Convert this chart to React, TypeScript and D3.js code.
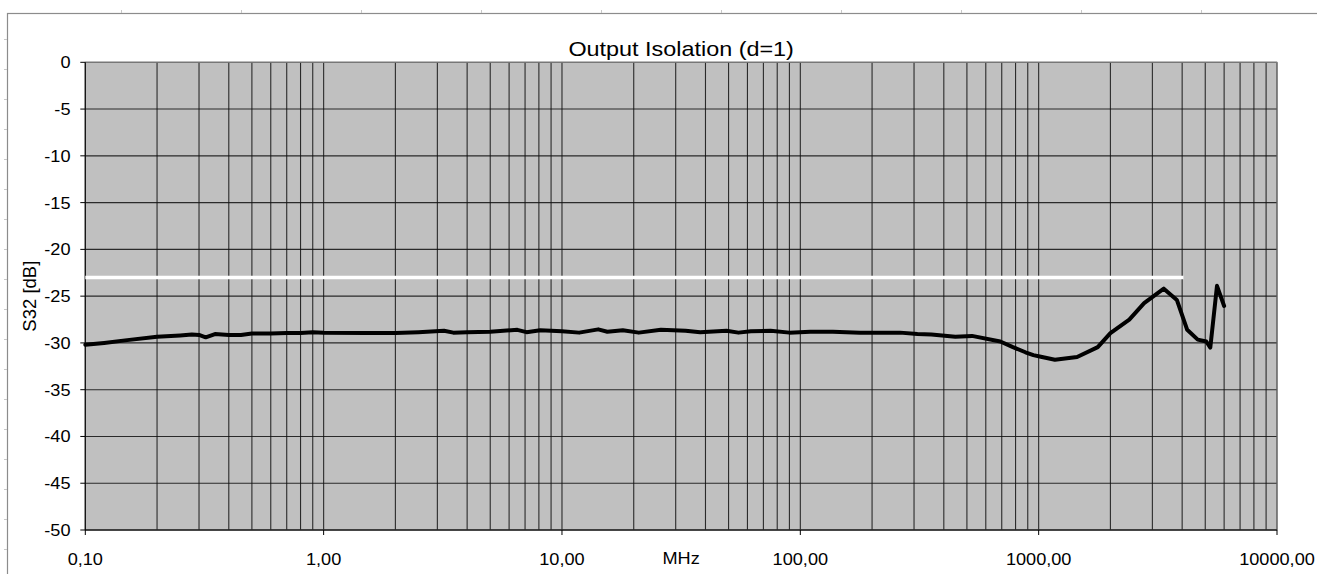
import React, { useEffect, useRef } from "react";
import * as d3 from "d3";

const freqMHz = [
  0.1, 0.12, 0.15, 0.2, 0.25, 0.28, 0.3, 0.32, 0.35, 0.4, 0.45, 0.5, 0.6, 0.7, 0.8, 0.9,
  1.0, 1.5, 2.0, 2.5, 3.2, 3.5, 4, 5, 6.5, 7.1, 8.1, 10, 11.8, 14.2, 15.5, 18, 21, 26, 33,
  38, 49, 55, 62, 75, 90, 110, 137, 178, 262, 310, 355, 447, 525, 690, 780, 880, 950, 1010,
  1170, 1450, 1770, 2000, 2400, 2770, 3350, 3800, 4200, 4650, 5050, 5250, 5600, 6000,
];
const s32dB = [
  -30.2, -30.0, -29.7, -29.35, -29.2, -29.1, -29.15, -29.4, -29.05, -29.15, -29.15, -29.0,
  -29.0, -28.95, -28.95, -28.85, -28.9, -28.95, -28.95, -28.85, -28.7, -28.9, -28.85, -28.8,
  -28.6, -28.85, -28.65, -28.75, -28.9, -28.55, -28.8, -28.65, -28.9, -28.6, -28.7, -28.85,
  -28.7, -28.9, -28.75, -28.7, -28.9, -28.8, -28.8, -28.9, -28.9, -29.05, -29.1, -29.35,
  -29.25, -29.85, -30.45, -31.0, -31.3, -31.45, -31.8, -31.5, -30.45, -28.95, -27.5, -25.75,
  -24.2, -25.4, -28.6, -29.65, -29.85, -30.5, -23.9, -26.05,
];
const limitFreq = [0.1, 4050];
const limitDB = [-23, -23];

const xTickValues = [0.1, 1, 10, 100, 1000, 10000];
const xTickLabels = ["0,10", "1,00", "10,00", "100,00", "1000,00", "10000,00"];
const yTickValues = [0, -5, -10, -15, -20, -25, -30, -35, -40, -45, -50];

const titleText = "Output Isolation (d=1)";
const xAxisTitle = "MHz";
const yAxisTitle = "S32 [dB]";

const W = 1317;
const H = 574;
const plot = { left: 85.3, right: 1277, top: 62.3, bottom: 530 };
const FONT = "'Liberation Sans', Arial, sans-serif";
const SX = 1.1; // horizontal stretch of the reference's text

export default function App() {
  const ref = useRef<SVGSVGElement | null>(null);

  useEffect(() => {
    const svg = d3.select(ref.current);
    svg.selectAll("*").remove();

    const x = d3.scaleLog().domain([0.1, 10000]).range([plot.left, plot.right]);
    const y = d3.scaleLinear().domain([-50, 0]).range([plot.bottom, plot.top]);

    // outer chart border (Excel chart frame)
    svg.append("rect")
      .attr("x", 7.5).attr("y", 13.5)
      .attr("width", W + 20).attr("height", H + 20)
      .attr("fill", "#fff").attr("stroke", "#8c8c8c").attr("stroke-width", 1.2);
    for (let xm = 121; xm < W; xm += 120) {
      svg.append("line").attr("x1", xm + 0.5).attr("x2", xm + 0.5).attr("y1", 10).attr("y2", 13)
        .attr("stroke", "#c8c8c8").attr("stroke-width", 1);
    }
    for (let ym = 39; ym < H; ym += 30) {
      svg.append("line").attr("x1", 4).attr("x2", 7).attr("y1", ym + 0.5).attr("y2", ym + 0.5)
        .attr("stroke", "#c8c8c8").attr("stroke-width", 1);
    }

    // plot area
    svg.append("rect")
      .attr("x", plot.left).attr("y", plot.top)
      .attr("width", plot.right - plot.left).attr("height", plot.bottom - plot.top)
      .attr("fill", "#c0c0c0");

    // vertical gridlines (log major + minor)
    const vGrid: number[] = [];
    for (let dec = 0.1; dec < 10000; dec *= 10) {
      for (let m = 1; m <= 9; m++) vGrid.push(+(dec * m).toPrecision(6));
    }
    vGrid.push(10000);
    svg.append("g").selectAll("line").data(vGrid).join("line")
      .attr("x1", (d) => x(d)).attr("x2", (d) => x(d))
      .attr("y1", plot.top).attr("y2", plot.bottom)
      .attr("stroke", "#111").attr("stroke-width", 1.1).attr("opacity", 0.85);

    // horizontal gridlines
    svg.append("g").selectAll("line").data(yTickValues).join("line")
      .attr("x1", plot.left).attr("x2", plot.right)
      .attr("y1", (d) => y(d)).attr("y2", (d) => y(d))
      .attr("stroke", "#111").attr("stroke-width", 1.1).attr("opacity", 0.85);

    // plot border
    svg.append("rect")
      .attr("x", plot.left).attr("y", plot.top)
      .attr("width", plot.right - plot.left).attr("height", plot.bottom - plot.top)
      .attr("fill", "none").attr("stroke", "#808080").attr("stroke-width", 1);

    // axes lines
    svg.append("line").attr("x1", plot.left).attr("x2", plot.left)
      .attr("y1", plot.top).attr("y2", plot.bottom).attr("stroke", "#000");
    svg.append("line").attr("x1", plot.left).attr("x2", plot.right)
      .attr("y1", plot.bottom).attr("y2", plot.bottom).attr("stroke", "#000");

    // y ticks + labels
    const yg = svg.append("g");
    yg.selectAll("line").data(yTickValues).join("line")
      .attr("x1", plot.left - 5).attr("x2", plot.left)
      .attr("y1", (d) => y(d)).attr("y2", (d) => y(d)).attr("stroke", "#000");
    yg.selectAll("text").data(yTickValues).join("text")
      .attr("transform", (d) => `translate(70.5, ${y(d)}) scale(${SX}, 1)`)
      .attr("dy", "0.36em").attr("text-anchor", "end")
      .attr("font-family", FONT).attr("font-size", 16.5).attr("fill", "#000")
      .text((d) => String(d));

    // x ticks + labels
    const xg = svg.append("g");
    xg.selectAll("line").data(xTickValues).join("line")
      .attr("x1", (d) => x(d)).attr("x2", (d) => x(d))
      .attr("y1", plot.bottom).attr("y2", plot.bottom + 5).attr("stroke", "#000");
    xg.selectAll("text").data(xTickValues).join("text")
      .attr("transform", (d) => `translate(${x(d)}, 565) scale(${SX}, 1)`)
      .attr("text-anchor", "middle")
      .attr("font-family", FONT).attr("font-size", 16.5).attr("fill", "#000")
      .text((_, i) => xTickLabels[i]);

    // titles
    svg.append("text")
      .attr("transform", `translate(${(plot.left + plot.right) / 2}, 56) scale(1.17, 1)`)
      .attr("text-anchor", "middle").attr("font-family", FONT).attr("font-size", 20)
      .attr("fill", "#000").text(titleText);
    svg.append("text")
      .attr("transform", `translate(${(plot.left + plot.right) / 2}, 563.5) scale(${SX}, 1)`)
      .attr("text-anchor", "middle").attr("font-family", FONT).attr("font-size", 16.5)
      .attr("fill", "#000").text(xAxisTitle);
    svg.append("text")
      .attr("transform", `translate(35.5, ${(plot.top + plot.bottom) / 2}) rotate(-90)`)
      .attr("text-anchor", "middle").attr("font-family", FONT).attr("font-size", 18.5)
      .attr("fill", "#000").text(yAxisTitle);

    // limit line (white)
    const limitPts = limitFreq.map((f, i) => [f, limitDB[i]] as [number, number]);
    svg.append("path")
      .attr("d", d3.line<[number, number]>().x((d) => x(d[0])).y((d) => y(d[1]))(limitPts) || "")
      .attr("fill", "none").attr("stroke", "#fff").attr("stroke-width", 3.5);

    // data line
    const pts = freqMHz.map((f, i) => [f, s32dB[i]] as [number, number]);
    svg.append("path")
      .attr("d", d3.line<[number, number]>().x((d) => x(d[0])).y((d) => y(d[1]))(pts) || "")
      .attr("fill", "none").attr("stroke", "#000").attr("stroke-width", 4)
      .attr("stroke-linejoin", "round").attr("stroke-linecap", "round");
  }, []);

  return (
    <svg
      ref={ref}
      width={W}
      height={H}
      style={{ position: "absolute", left: 0, top: 0, background: "#fff" }}
    />
  );
}
